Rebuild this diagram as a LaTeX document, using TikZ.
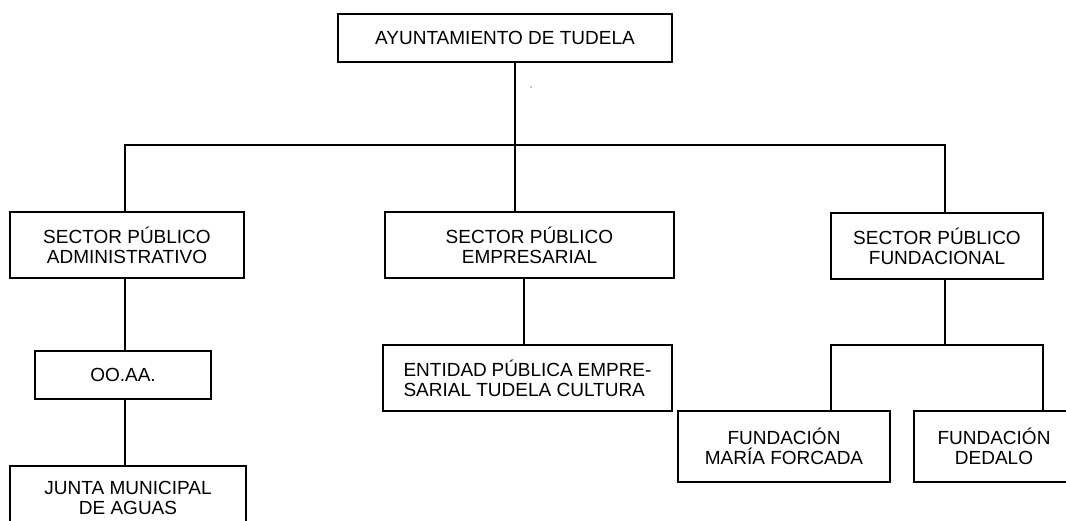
\documentclass[tikz,border=0pt]{standalone}
\usepackage{fontspec}
\setmainfont{Liberation Sans}
\begin{document}
\begin{tikzpicture}[x=1pt,y=-1pt,
  box/.style={draw, line width=1.5pt, inner sep=0pt, align=center,
    font=\fontsize{19}{20}\selectfont},
  conn/.style={line width=1.5pt, line join=miter}]
\useasboundingbox (0,0) rectangle (1066,520);
\clip (0,0) rectangle (1066,520);
\node[box, minimum width=334pt, minimum height=48pt] (top) at (505,38) {AYUNTAMIENTO DE TUDELA};
\node[box, minimum width=234pt, minimum height=66pt] (adm) at (127,245) {SECTOR PÚBLICO\\ADMINISTRATIVO};
\node[box, minimum width=289pt, minimum height=66pt] (emp) at (529.5,245) {SECTOR PÚBLICO\\EMPRESARIAL};
\node[box, minimum width=212pt, minimum height=66pt] (fun) at (937,246) {SECTOR PÚBLICO\\FUNDACIONAL};
\node[box, minimum width=176pt, minimum height=48pt] (ooaa) at (123,375) {OO.AA.};
\node[box, minimum width=236pt, minimum height=63pt] (junta) at (128,497.5) {JUNTA MUNICIPAL\\DE AGUAS};
\node[box, minimum width=289pt, minimum height=66pt, align=left] (ent) at (527.5,378) {\makebox[248pt][s]{ENTIDAD PÚBLICA EMPRE-}\\SARIAL TUDELA CULTURA};
\node[box, minimum width=212pt, minimum height=71pt] (mar) at (784,446.5) {FUNDACIÓN\\MARÍA FORCADA};
\node[box, minimum width=160pt, minimum height=71pt] (ded) at (994,446.5) {FUNDACIÓN\\DEDALO};
\coordinate (jc) at (515,145);
\coordinate (jl) at (125,145);
\coordinate (jr) at (945,145);
\coordinate (ev) at (524,0);
\coordinate (jf) at (945,345);
\coordinate (jfl) at (831,345);
\coordinate (jfr) at (1043,345);
\draw[conn] (top.south -| jc) -- (jc) -- (emp.north -| jc);
\draw[conn] (adm.north -| jl) -- (jl) -- (jr) -- (fun.north -| jr);
\draw[conn] (adm.south -| jl) -- (ooaa.north -| jl);
\draw[conn] (ooaa.south -| jl) -- (junta.north -| jl);
\draw[conn] (emp.south -| ev) -- (ent.north -| ev);
\draw[conn] (fun.south -| jf) -- (jf);
\draw[conn] (mar.north -| jfl) -- (jfl) -- (jfr) -- (ded.north -| jfr);
\fill (531,87) circle (0.7pt);
\end{tikzpicture}
\end{document}
